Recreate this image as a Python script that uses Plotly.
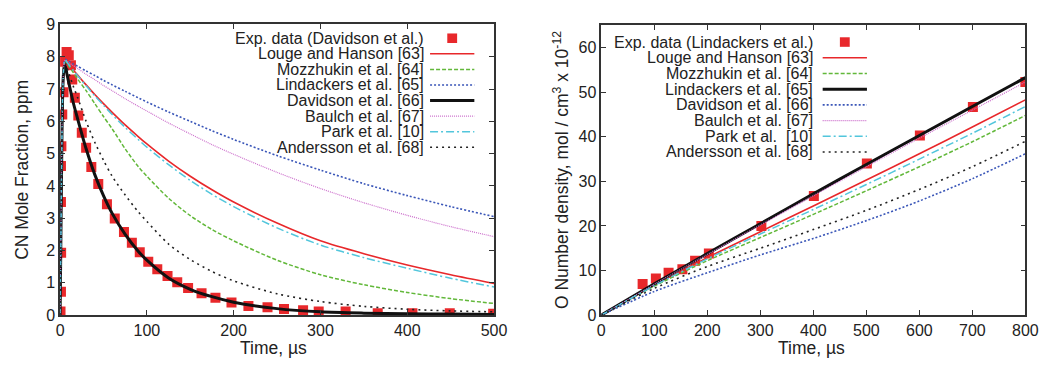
import plotly.graph_objects as go

W, H = 1061, 367

# ---------------- Left panel data (CN mole fraction, ppm) ----------------
exp_cn_t = [0.5, 1.0, 1.2, 1.0, 1.0, 1.5, 2.5, 4.0, 5.0, 7.5, 10.0, 12.5, 14.0, 17.0, 21.0, 25.0,
            30.0, 36.0, 44.0, 54.0, 63.0, 73.6, 82.7, 91.8, 101.6, 112.0, 123.8, 135.0, 147.5,
            163.0, 179.0, 197.5, 217.0, 239.0, 258.0, 280.0, 298.0, 329.0, 366.0, 406.0, 449.0, 499.0]
exp_cn_v = [0.11, 0.72, 1.93, 3.50, 4.62, 5.23, 6.21, 6.90, 7.85, 8.15, 8.05, 7.74, 7.30, 6.73, 6.18, 5.65,
            5.18, 4.59, 4.06, 3.43, 2.99, 2.57, 2.24, 1.95, 1.65, 1.42, 1.21, 1.02, 0.84,
            0.68, 0.54, 0.39, 0.28, 0.24, 0.19, 0.15, 0.11, 0.11, 0.06, 0.06, 0.06, 0.04]

t_left = [0, 1, 2, 3, 4, 5, 6, 8, 10, 15, 20, 30, 40, 50, 60, 75, 90, 100, 125, 150, 175, 200,
          250, 300, 350, 400, 450, 500]
cn_louge = [0, 2.6, 5.2, 6.9, 7.6, 7.85, 7.9, 7.83, 7.77, 7.6, 7.44, 7.13, 6.83, 6.55, 6.28, 5.89, 5.53,
            5.3, 4.77, 4.3, 3.88, 3.5, 2.85, 2.3, 1.9, 1.55, 1.25, 0.98]
cn_mozz = [0, 2.6, 5.2, 6.9, 7.6, 7.8, 7.85, 7.8, 7.72, 7.52, 7.32, 6.95, 6.55, 6.15, 5.77, 5.15, 4.6,
           4.3, 3.62, 3.08, 2.65, 2.3, 1.7, 1.25, 0.94, 0.7, 0.51, 0.36]
cn_lind = [0, 2.6, 5.2, 6.9, 7.6, 7.85, 7.92, 7.89, 7.86, 7.78, 7.71, 7.56, 7.42, 7.27, 7.13, 6.93, 6.73,
           6.6, 6.29, 6.0, 5.71, 5.44, 4.94, 4.49, 4.07, 3.7, 3.36, 3.05]
cn_david = [0, 2.6, 5.2, 6.9, 7.5, 7.7, 7.7, 7.45, 7.2, 6.6, 6.1, 5.15, 4.35, 3.7, 3.15, 2.5, 1.98,
            1.7, 1.15, 0.8, 0.57, 0.4, 0.2, 0.1, 0.06, 0.04, 0.03, 0.02]
cn_baulch = [0, 2.6, 5.2, 6.9, 7.6, 7.85, 7.9, 7.86, 7.82, 7.73, 7.64, 7.46, 7.29, 7.11, 6.95, 6.7, 6.47,
             6.32, 5.95, 5.61, 5.28, 4.98, 4.42, 3.92, 3.48, 3.09, 2.74, 2.43]
cn_park = [0, 2.6, 5.2, 6.9, 7.6, 7.85, 7.9, 7.83, 7.76, 7.59, 7.42, 7.1, 6.79, 6.5, 6.21, 5.81, 5.44,
           5.2, 4.66, 4.17, 3.74, 3.36, 2.7, 2.17, 1.78, 1.45, 1.14, 0.87]
cn_anders = [0, 2.6, 5.2, 6.9, 7.55, 7.75, 7.8, 7.65, 7.5, 7.1, 6.75, 6.0, 5.35, 4.8, 4.3, 3.72, 3.2,
             2.9, 2.2, 1.72, 1.35, 1.06, 0.66, 0.42, 0.27, 0.18, 0.13, 0.1]

# ---------------- Right panel data (O number density) ----------------
exp_o_t = [78, 103, 127, 153, 177, 203, 302, 401, 501, 601, 701, 800]
exp_o_v = [7.0, 8.2, 9.5, 10.3, 12.2, 13.8, 20.0, 26.7, 34.0, 40.3, 46.7, 52.3]

t_right = [0, 100, 200, 300, 400, 500, 600, 700, 800]
o_louge = [0, 6.7, 12.9, 18.7, 24.5, 30.3, 36.2, 42.2, 48.3]
o_mozz = [0, 6.5, 12.2, 17.4, 22.6, 27.9, 33.3, 38.9, 44.8]
o_lind = [0, 7.0, 13.8, 20.5, 27.2, 33.8, 40.3, 46.8, 53.3]
o_david = [0, 5.3, 9.5, 13.5, 17.2, 21.2, 25.6, 30.6, 36.2]
o_baulch = [0, 6.9, 13.6, 20.2, 26.8, 33.3, 39.7, 46.0, 52.3]
o_park = [0, 6.6, 12.6, 18.2, 23.7, 29.3, 35.0, 40.8, 46.8]
o_anders = [0, 6.0, 10.9, 15.0, 19.2, 23.5, 28.2, 33.3, 39.0]

left_labels = ["Exp. data (Davidson et al.)", "Louge and Hanson [63]", "Mozzhukin et al. [64]",
               "Lindackers et al. [65]", "Davidson et al. [66]", "Baulch et al. [67]",
               "Park et al. [10]", "Andersson et al. [68]"]
right_labels = ["Exp. data (Lindackers et al.)", "Louge and Hanson [63]", "Mozzhukin et al. [64]",
                "Lindackers et al. [65]", "Davidson et al. [66]", "Baulch et al. [67]",
                "Park et al.\u00a0 [10]", "Andersson et al. [68]"]

# ---------------- Styles ----------------
RED = "#e8282b"
S_RED = dict(color=RED, width=1.6, dash="solid")
S_GREEN = dict(color="#62b83a", width=1.5, dash="4px,2px")
S_BLUE = dict(color="#3a56b8", width=1.6, dash="2px,2px")
S_BLACK = dict(color="#111111", width=3, dash="solid")
S_PINK = dict(color="#cc6fcc", width=1.2, dash="1px,1px")
S_CYAN = dict(color="#52c6dc", width=1.5, dash="8px,3px,2px,3px")
S_DOT = dict(color="#222222", width=1.6, dash="2px,4px")

left_styles = [S_RED, S_GREEN, S_BLUE, S_BLACK, S_PINK, S_CYAN, S_DOT]
right_styles = [S_RED, S_GREEN, S_BLACK, S_BLUE, S_PINK, S_CYAN, S_DOT]

fig = go.Figure()

# left panel
fig.add_trace(go.Scatter(x=exp_cn_t, y=exp_cn_v, mode="markers",
                         marker=dict(symbol="square", size=10, color=RED, line=dict(width=0)),
                         xaxis="x", yaxis="y", showlegend=False))
for vals, st in zip([cn_louge, cn_mozz, cn_lind, cn_david, cn_baulch, cn_park, cn_anders], left_styles):
    fig.add_trace(go.Scatter(x=t_left, y=vals, mode="lines",
                             line=dict(shape="spline", smoothing=0.8, **st),
                             xaxis="x", yaxis="y", showlegend=False))

# right panel
fig.add_trace(go.Scatter(x=exp_o_t, y=exp_o_v, mode="markers",
                         marker=dict(symbol="square", size=10, color=RED, line=dict(width=0)),
                         xaxis="x2", yaxis="y2", showlegend=False))
for vals, st in zip([o_louge, o_mozz, o_lind, o_david, o_baulch, o_park, o_anders], right_styles):
    fig.add_trace(go.Scatter(x=t_right, y=vals, mode="lines",
                             line=dict(shape="spline", smoothing=0.8, **st),
                             xaxis="x2", yaxis="y2", showlegend=False))

def fx(px):
    return px / W

def fy(py):
    return 1 - py / H

FONT = "Liberation Sans, Arial, Helvetica, sans-serif"
TXT = "#222222"
axis_common = dict(showline=True, linecolor="#333333", linewidth=1.5, mirror="allticks",
                   ticks="inside", ticklen=5, tickwidth=1.2, tickcolor="#333333",
                   showgrid=False, zeroline=False,
                   tickfont=dict(family=FONT, size=16, color=TXT))

fig.update_layout(
    width=W, height=H, margin=dict(l=0, r=0, t=0, b=0),
    paper_bgcolor="white", plot_bgcolor="white",
    xaxis=dict(domain=[fx(57), fx(498)], range=[0, 500], dtick=100, anchor="y", **axis_common),
    yaxis=dict(domain=[fy(322), fy(17.3)], range=[0, 9], dtick=1, anchor="x", **axis_common),
    xaxis2=dict(domain=[fx(607), fx(1038)], range=[0, 800], dtick=100, anchor="y2", **axis_common),
    yaxis2=dict(domain=[fy(322), fy(18.3)], range=[0, 65], dtick=10, anchor="x2", **axis_common),
    showlegend=False,
)

annotations = []
shapes = []

def add_text(x, y, text, size=16, xanchor="center", angle=0):
    annotations.append(dict(x=fx(x), y=fy(y), xref="paper", yref="paper", text=text,
                            showarrow=False, xanchor=xanchor, yanchor="middle", textangle=angle,
                            font=dict(family=FONT, size=size, color=TXT)))

# axis titles
add_text(274, 357, "Time, µs", size=17.5)
add_text(18, 170, "CN Mole Fraction, ppm", size=17.5, angle=-90)
add_text(821, 357, "Time, µs", size=17.5)
add_text(566, 170, "O Number density, mol / cm<sup>3</sup> x 10<sup>-12</sup>", size=17.5, angle=-90)

# manual legends (text right-aligned, sample on the right)
def legend(labels, styles, text_right, x0, x1, y0, dy):
    for i, lab in enumerate(labels):
        y = y0 + i * dy
        add_text(text_right, y, lab, size=16, xanchor="right")
        if i == 0:
            cx = (x0 + x1) / 2
            shapes.append(dict(type="rect", xref="paper", yref="paper",
                               x0=fx(cx - 5), x1=fx(cx + 5), y0=fy(y + 5), y1=fy(y - 5),
                               fillcolor=RED, line=dict(width=0)))
        else:
            st = styles[i - 1]
            shapes.append(dict(type="line", xref="paper", yref="paper",
                               x0=fx(x0), x1=fx(x1), y0=fy(y), y1=fy(y),
                               line=dict(color=st["color"], width=st["width"], dash=st["dash"])))

legend(left_labels, left_styles, 429, 433, 478, 31.7, 16.33)
legend(right_labels, right_styles, 824, 832, 877, 35.7, 16.47)

fig.update_layout(annotations=annotations, shapes=shapes)

fig.write_html("out.html")
